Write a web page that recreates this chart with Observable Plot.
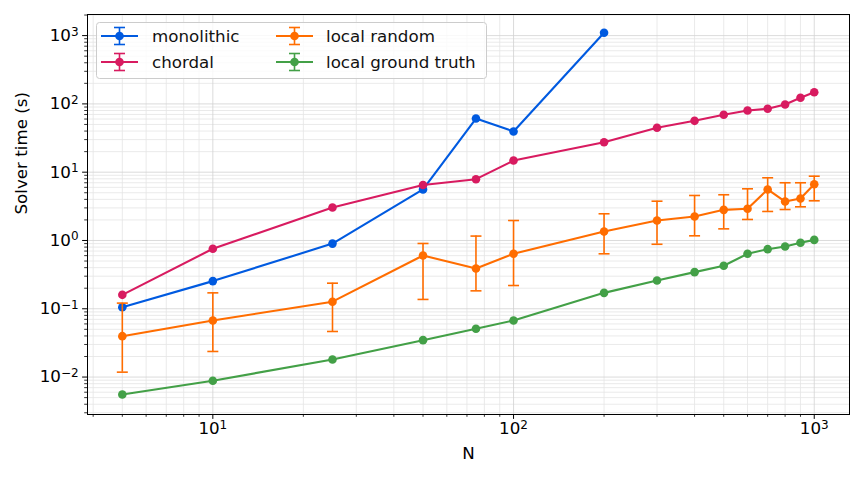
<!DOCTYPE html>
<html>
<head>
<meta charset="utf-8">
<script src="https://cdn.jsdelivr.net/npm/d3@7"></script>
<script src="https://cdn.jsdelivr.net/npm/@observablehq/plot@0.6"></script>
<style>
  body { margin: 0; background: #fff; font-family: "DejaVu Sans", sans-serif; }
  #wrap { position: relative; width: 864px; height: 480px; }
  #wrap > svg { position: absolute; left: 0; top: 0; }
  #legend { pointer-events: none; }
</style>
</head>
<body>
<div id="wrap"></div>
<script>
// ---------- data ----------
const seriesNames = ["monolithic", "chordal", "local random", "local ground truth"];
const seriesColors = ["#005ae0", "#d81b60", "#ff6d00", "#43a047"];

const nMono = [5, 10, 25, 50, 75, 100, 200];
const monolithic = [0.105, 0.254, 0.90, 5.6, 61, 39.5, 1100];

const nAll = [5, 10, 25, 50, 75, 100, 200, 300, 400, 500, 600, 700, 800, 900, 1000];
const chordal = [0.16, 0.756, 3.04, 6.5, 7.9, 14.8, 27.5, 44.7, 56.5, 69.2, 80, 84.7, 98, 123, 148];
const localRandom = [0.0397, 0.0674, 0.127, 0.603, 0.389, 0.638, 1.35, 1.96, 2.25, 2.81, 2.91, 5.58, 3.72, 4.12, 6.67];
const localRandomLow = [0.0118, 0.0237, 0.0465, 0.137, 0.183, 0.219, 0.638, 0.88, 1.17, 1.48, 2.03, 2.66, 2.84, 3.11, 3.81];
const localRandomHigh = [0.121, 0.171, 0.237, 0.904, 1.16, 1.96, 2.46, 3.76, 4.56, 4.67, 5.71, 8.28, 7.0, 7.0, 8.74];
const groundTruth = [0.00556, 0.00883, 0.0181, 0.0347, 0.0509, 0.0674, 0.171, 0.26, 0.344, 0.426, 0.638, 0.746, 0.817, 0.925, 1.02];

const xMajor = [10, 100, 1000];
const yMajor = [0.01, 0.1, 1, 10, 100, 1000];
const xTitle = "N";
const yTitle = "Solver time (s)";

// ---------- build tables ----------
const mono = nMono.map((n, i) => ({n, v: monolithic[i]}));
const chord = nAll.map((n, i) => ({n, v: chordal[i]}));
const rand = nAll.map((n, i) => ({n, v: localRandom[i], lo: localRandomLow[i], hi: localRandomHigh[i]}));
const truth = nAll.map((n, i) => ({n, v: groundTruth[i]}));

const xDomain = [3.83, 1310];
const yDomain = [0.00283, 2037];
const minorOf = (lo, hi) => {
  const out = [];
  for (let e = -4; e <= 4; e++) for (let k = 1; k <= 9; k++) {
    const v = k * Math.pow(10, e);
    if (v >= lo && v <= hi) out.push(v);
  }
  return out;
};
const xMinor = minorOf(xDomain[0], xDomain[1]).filter(v => !xMajor.some(m => Math.abs(m - v) / v < 1e-9));
const yMinor = minorOf(yDomain[0], yDomain[1]).filter(v => !yMajor.some(m => Math.abs(m - v) / v < 1e-9));

const FS = 16.7;
const supFmt = d => "10^" + Math.round(Math.log10(d));

const capSymbol = {draw(ctx) { ctx.moveTo(-5.5, 0); ctx.lineTo(5.5, 0); }};

const seriesMarks = (data, color, withErr) => {
  const m = [];
  if (withErr) {
    m.push(Plot.ruleX(data, {x: "n", y1: "lo", y2: "hi", stroke: color, strokeWidth: 1.6}));
    m.push(Plot.dot(data, {x: "n", y: "lo", symbol: capSymbol, fill: "none", stroke: color, strokeWidth: 1.6}));
    m.push(Plot.dot(data, {x: "n", y: "hi", symbol: capSymbol, fill: "none", stroke: color, strokeWidth: 1.6}));
  }
  m.push(Plot.line(data, {x: "n", y: "v", stroke: color, strokeWidth: 2.1}));
  m.push(Plot.dot(data, {x: "n", y: "v", r: 4.3, fill: color, stroke: "none"}));
  return m;
};

const chart = Plot.plot({
  width: 864,
  height: 480,
  marginLeft: 87,
  marginRight: 15,
  marginTop: 14,
  marginBottom: 66,
  style: {fontFamily: "DejaVu Sans, sans-serif", background: "white", color: "black"},
  x: {type: "log", domain: xDomain},
  y: {type: "log", domain: yDomain},
  marks: [
    Plot.gridX(xMinor, {stroke: "#e4e4e4", strokeOpacity: 1, strokeWidth: 0.8}),
    Plot.gridY(yMinor, {stroke: "#e4e4e4", strokeOpacity: 1, strokeWidth: 0.8}),
    Plot.gridX(xMajor, {stroke: "#d2d2d2", strokeOpacity: 1, strokeWidth: 0.8}),
    Plot.gridY(yMajor, {stroke: "#d2d2d2", strokeOpacity: 1, strokeWidth: 0.8}),
    Plot.axisX(xMinor, {tickSize: 2.8, tickFormat: () => "", label: null, strokeWidth: 0.8}),
    Plot.axisY(yMinor, {tickSize: 2.8, tickFormat: () => "", label: null, strokeWidth: 0.8}),
    Plot.axisX(xMajor, {tickSize: 4.9, tickPadding: 3, tickFormat: supFmt, fontSize: FS, label: null, strokeWidth: 1}),
    Plot.axisY(yMajor, {tickSize: 4.9, tickPadding: 4, tickFormat: supFmt, fontSize: FS, label: null, strokeWidth: 1}),
    Plot.text([xTitle], {frameAnchor: "bottom", dy: 39, fontSize: FS, lineAnchor: "middle"}),
    Plot.text([yTitle], {frameAnchor: "left", dx: -66, rotate: -90, fontSize: FS, lineAnchor: "middle"}),
    ...seriesMarks(mono, seriesColors[0], false),
    ...seriesMarks(chord, seriesColors[1], false),
    ...seriesMarks(rand, seriesColors[2], true),
    ...seriesMarks(truth, seriesColors[3], false),
    Plot.frame({stroke: "black", strokeWidth: 1})
  ]
});

// superscript exponents in tick labels
d3.select(chart).selectAll("text").each(function() {
  const t = this.textContent;
  const m = /^10\^(-?\d+)$/.exec(t);
  if (m) {
    const sel = d3.select(this);
    sel.text("10");
    sel.append("tspan").attr("dy", "-0.45em").attr("font-size", "0.72em").text(m[1].replace("-", "\u2212"));
  }
});

const wrap = document.getElementById("wrap");
wrap.appendChild(chart);

// ---------- legend ----------
const leg = d3.select(wrap).append("svg").attr("id", "legend")
  .attr("width", 864).attr("height", 480);
leg.append("rect").attr("x", 96.5).attr("y", 22.5).attr("width", 390).attr("height", 56)
  .attr("rx", 3).attr("fill", "white").attr("fill-opacity", 0.8).attr("stroke", "#cccccc");
const slots = [
  {x0: 101, xm: 119.5, xt: 152, y: 36},
  {x0: 101, xm: 119.5, xt: 152, y: 62},
  {x0: 276, xm: 294.5, xt: 326, y: 36},
  {x0: 276, xm: 294.5, xt: 326, y: 62}
];
seriesNames.forEach((name, i) => {
  const s = slots[i], c = seriesColors[i];
  const g = leg.append("g");
  g.append("line").attr("x1", s.x0).attr("x2", s.x0 + 37).attr("y1", s.y).attr("y2", s.y).attr("stroke", c).attr("stroke-width", 2.1);
  g.append("line").attr("x1", s.xm).attr("x2", s.xm).attr("y1", s.y - 8.5).attr("y2", s.y + 8.5).attr("stroke", c).attr("stroke-width", 1.6);
  g.append("line").attr("x1", s.xm - 5.5).attr("x2", s.xm + 5.5).attr("y1", s.y - 8.5).attr("y2", s.y - 8.5).attr("stroke", c).attr("stroke-width", 1.6);
  g.append("line").attr("x1", s.xm - 5.5).attr("x2", s.xm + 5.5).attr("y1", s.y + 8.5).attr("y2", s.y + 8.5).attr("stroke", c).attr("stroke-width", 1.6);
  g.append("circle").attr("cx", s.xm).attr("cy", s.y).attr("r", 4.3).attr("fill", c);
  g.append("text").attr("x", s.xt).attr("y", s.y + 6).attr("font-size", FS)
    .attr("font-family", "DejaVu Sans, sans-serif").attr("fill", "#111").text(name);
});
</script>
</body>
</html>
